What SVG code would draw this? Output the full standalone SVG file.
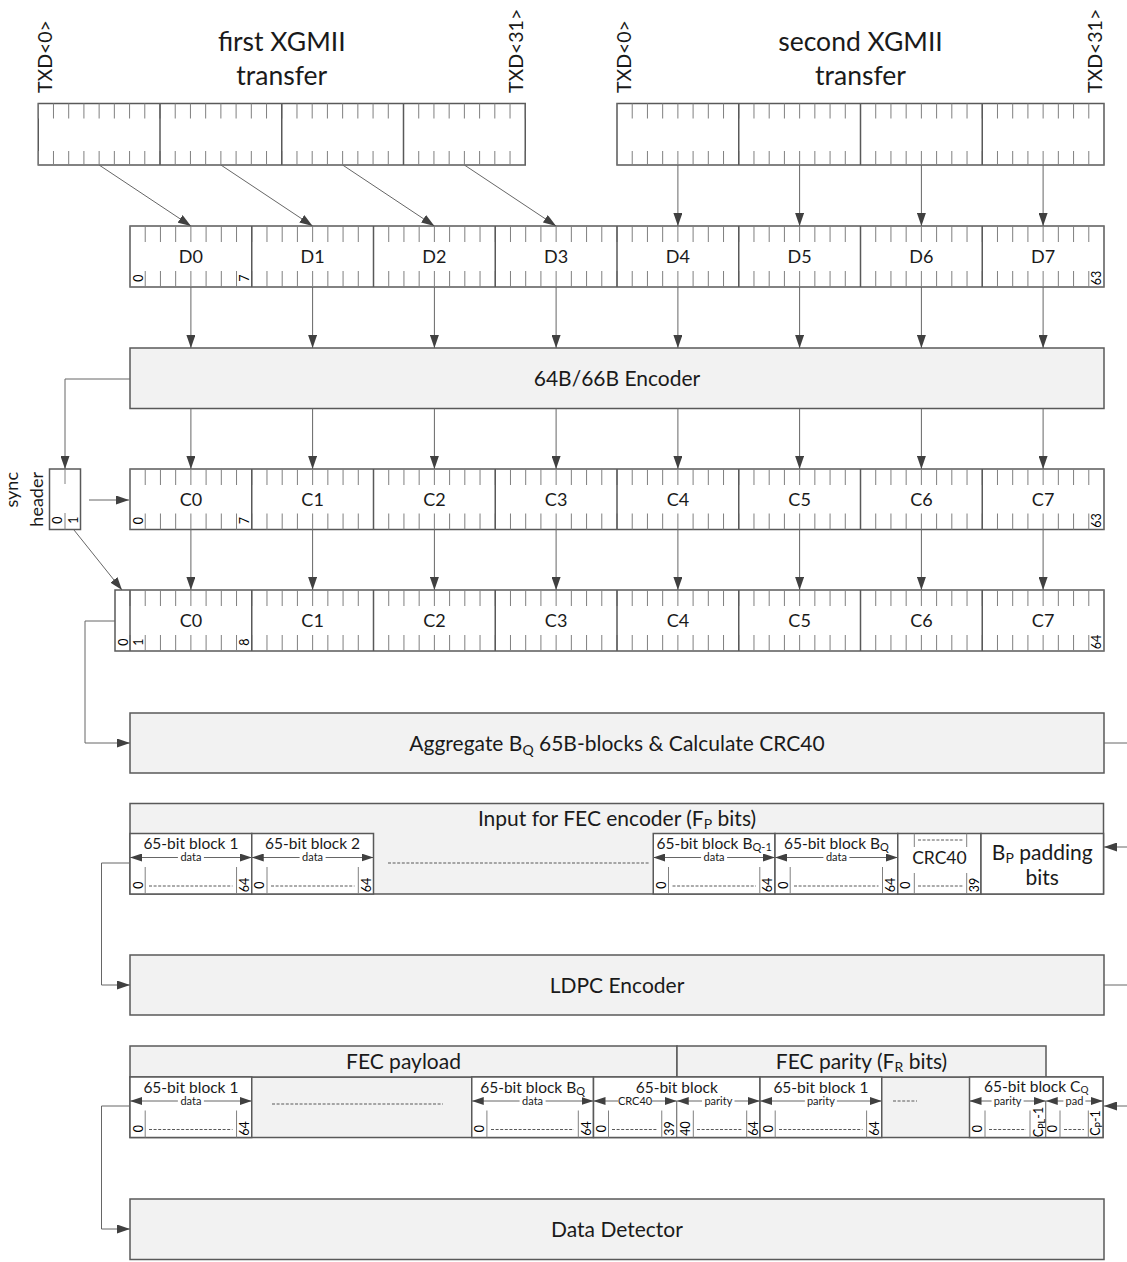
<svg xmlns="http://www.w3.org/2000/svg" width="1127" height="1262" viewBox="0 0 1127 1262">
<style>
.bx{fill:#fff;stroke:#595959;stroke-width:1.5}
.pb{fill:#f2f2f2;stroke:#595959;stroke-width:1.5}
.dv{stroke:#595959;stroke-width:1.5}
.tk{stroke:#808080;stroke-dasharray:1 14.21875;fill:none}
.vl{stroke:#808080;stroke-width:1}
.ds{stroke:#595959;stroke-width:1;stroke-dasharray:3 1.6}
.cn{stroke:#666;stroke-width:1;fill:none}
text{font-family:Lato,"Liberation Sans",sans-serif;fill:#1a1a1a}
.tt{font-size:26.5px;text-anchor:middle}
.tx{font-size:19.5px}
.lb{font-size:18px;text-anchor:middle}
.bg{font-size:21px;text-anchor:middle}
.bl{font-size:12.5px;text-anchor:middle;fill:#000}
.ct{font-size:15.5px;text-anchor:middle}
.sm{font-size:11px;text-anchor:middle}
.sh{font-size:18px;text-anchor:end}
</style>
<defs>
<marker id="ah" viewBox="0 0 13 9" refX="13" refY="4.5" markerWidth="13" markerHeight="9" markerUnits="userSpaceOnUse" orient="auto"><path d="M0,0L13,4.5L0,9z" fill="#404040"/></marker>
<marker id="sa" viewBox="0 0 12 8" refX="12" refY="4" markerWidth="12" markerHeight="8" markerUnits="userSpaceOnUse" orient="auto"><path d="M0,0L12,4L0,8z" fill="#404040"/></marker>
</defs>

<g id="xgmii1">
<rect class="bx" x="38.25" y="103.5" width="487" height="61.5"/>
<line class="tk" x1="37.75" y1="111" x2="525.25" y2="111" stroke-width="15"/>
<line class="tk" x1="37.75" y1="158" x2="525.25" y2="158" stroke-width="14"/>
<path class="dv" d="M160,103.5V165M281.75,103.5V165M403.5,103.5V165"/>
<text class="tt" x="281.75" y="51">first XGMII</text>
<text class="tt" x="281.75" y="85">transfer</text>
<text class="tx" transform="translate(52,93) rotate(-90)">TXD&lt;0&gt;</text>
<text class="tx" transform="translate(523,93) rotate(-90)">TXD&lt;31&gt;</text>
</g>

<g id="xgmii2">
<rect class="bx" x="617" y="103.5" width="487" height="61.5"/>
<line class="tk" x1="616.5" y1="111" x2="1104" y2="111" stroke-width="15"/>
<line class="tk" x1="616.5" y1="158" x2="1104" y2="158" stroke-width="14"/>
<path class="dv" d="M738.75,103.5V165M860.5,103.5V165M982.25,103.5V165"/>
<text class="tt" x="860.5" y="51">second XGMII</text>
<text class="tt" x="860.5" y="85">transfer</text>
<text class="tx" transform="translate(631,93) rotate(-90)">TXD&lt;0&gt;</text>
<text class="tx" transform="translate(1102,93) rotate(-90)">TXD&lt;31&gt;</text>
</g>

<g id="drow">
<rect class="bx" x="130" y="226" width="974" height="61"/>
<line class="tk" x1="129.5" y1="234" x2="1104" y2="234" stroke-width="16"/>
<line class="tk" x1="129.5" y1="279" x2="1104" y2="279" stroke-width="16"/>
<path class="dv" d="M251.75,226V287M373.5,226V287M495.25,226V287M617,226V287M738.75,226V287M860.5,226V287M982.25,226V287"/>
<text class="lb" x="190.9" y="262.5">D0</text>
<text class="lb" x="312.6" y="262.5">D1</text>
<text class="lb" x="434.4" y="262.5">D2</text>
<text class="lb" x="556.1" y="262.5">D3</text>
<text class="lb" x="677.9" y="262.5">D4</text>
<text class="lb" x="799.6" y="262.5">D5</text>
<text class="lb" x="921.4" y="262.5">D6</text>
<text class="lb" x="1043.1" y="262.5">D7</text>
<text class="bl" transform="translate(142.5,278) rotate(-90)">0</text>
<text class="bl" transform="translate(249,278) rotate(-90)">7</text>
<text class="bl" transform="translate(1101.3,278) rotate(-90)">63</text>
</g>

<g id="encoder">
<rect class="pb" x="130" y="348" width="974" height="60.5"/>
<text class="bg" x="617" y="385.5">64B/66B Encoder</text>
</g>

<g id="sync">
<rect class="bx" x="49.5" y="469" width="31" height="60.5"/>
<path class="vl" d="M65,469V484M65,513V529.5"/>
<text class="bl" transform="translate(62,520) rotate(-90)">0</text>
<text class="bl" transform="translate(77.5,520) rotate(-90)">1</text>
<text class="sh" transform="translate(17.5,472) rotate(-90)">sync</text>
<text class="sh" transform="translate(43,472) rotate(-90)">header</text>
</g>

<g id="crow">
<rect class="bx" x="130" y="469" width="974" height="60.5"/>
<line class="tk" x1="129.5" y1="477" x2="1104" y2="477" stroke-width="16"/>
<line class="tk" x1="129.5" y1="521.5" x2="1104" y2="521.5" stroke-width="16"/>
<path class="dv" d="M251.75,469V529.5M373.5,469V529.5M495.25,469V529.5M617,469V529.5M738.75,469V529.5M860.5,469V529.5M982.25,469V529.5"/>
<text class="lb" x="190.9" y="505.5">C0</text>
<text class="lb" x="312.6" y="505.5">C1</text>
<text class="lb" x="434.4" y="505.5">C2</text>
<text class="lb" x="556.1" y="505.5">C3</text>
<text class="lb" x="677.9" y="505.5">C4</text>
<text class="lb" x="799.6" y="505.5">C5</text>
<text class="lb" x="921.4" y="505.5">C6</text>
<text class="lb" x="1043.1" y="505.5">C7</text>
<text class="bl" transform="translate(142.5,520.5) rotate(-90)">0</text>
<text class="bl" transform="translate(249,520.5) rotate(-90)">7</text>
<text class="bl" transform="translate(1101.3,520.5) rotate(-90)">63</text>
</g>

<g id="row65">
<rect class="bx" x="115" y="590" width="989" height="61"/>
<line class="tk" x1="129.5" y1="598" x2="1104" y2="598" stroke-width="16"/>
<line class="tk" x1="129.5" y1="643" x2="1104" y2="643" stroke-width="16"/>
<path class="dv" d="M130,590V651M251.75,590V651M373.5,590V651M495.25,590V651M617,590V651M738.75,590V651M860.5,590V651M982.25,590V651"/>
<text class="lb" x="190.9" y="627">C0</text>
<text class="lb" x="312.6" y="627">C1</text>
<text class="lb" x="434.4" y="627">C2</text>
<text class="lb" x="556.1" y="627">C3</text>
<text class="lb" x="677.9" y="627">C4</text>
<text class="lb" x="799.6" y="627">C5</text>
<text class="lb" x="921.4" y="627">C6</text>
<text class="lb" x="1043.1" y="627">C7</text>
<text class="bl" transform="translate(127.5,642) rotate(-90)">0</text>
<text class="bl" transform="translate(142.5,642) rotate(-90)">1</text>
<text class="bl" transform="translate(249,642) rotate(-90)">8</text>
<text class="bl" transform="translate(1101.3,642) rotate(-90)">64</text>
</g>

<g id="aggregate">
<rect class="pb" x="130" y="713" width="974" height="60"/>
<text class="bg" x="617" y="750.5">Aggregate B<tspan dy="4" font-size="14">Q</tspan><tspan dy="-4"> 65B-blocks &amp; Calculate CRC40</tspan></text>
</g>

<g id="fecinput">
<rect class="pb" x="130" y="803.5" width="973.5" height="90.5"/>
<text class="bg" x="617" y="825.5">Input for FEC encoder (F<tspan dy="3" font-size="14">P</tspan><tspan dy="-3"> bits)</tspan></text>
<g id="in-b1">
<rect class="bx" x="130" y="833.5" width="121.75" height="60.5"/>
<text class="ct" x="190.9" y="849">65-bit block 1</text>
<text class="sm" x="190.9" y="861">data</text>
<path class="vl" d="M145.2,867V894M236.55,867V894"/>
<line class="ds" x1="149" y1="886" x2="232.5" y2="886"/>
<text class="bl" transform="translate(142.5,885) rotate(-90)">0</text>
<text class="bl" transform="translate(249,885) rotate(-90)">64</text>
</g>
<g id="in-b2">
<rect class="bx" x="251.75" y="833.5" width="121.75" height="60.5"/>
<text class="ct" x="312.6" y="849">65-bit block 2</text>
<text class="sm" x="312.6" y="861">data</text>
<path class="vl" d="M267,867V894M358.3,867V894"/>
<line class="ds" x1="271" y1="886" x2="354.5" y2="886"/>
<text class="bl" transform="translate(264.3,885) rotate(-90)">0</text>
<text class="bl" transform="translate(370.8,885) rotate(-90)">64</text>
</g>
<line class="ds" x1="388" y1="863" x2="650" y2="863"/>
<g id="in-bq1">
<rect class="bx" x="653.25" y="833.5" width="121.75" height="60.5"/>
<text class="ct" x="714.1" y="849">65-bit block B<tspan dy="2" font-size="11">Q-1</tspan></text>
<text class="sm" x="714.1" y="861">data</text>
<path class="vl" d="M668.5,867V894M759.8,867V894"/>
<line class="ds" x1="672.5" y1="886" x2="756" y2="886"/>
<text class="bl" transform="translate(665.8,885) rotate(-90)">0</text>
<text class="bl" transform="translate(772.3,885) rotate(-90)">64</text>
</g>
<g id="in-bq">
<rect class="bx" x="775" y="833.5" width="122.75" height="60.5"/>
<text class="ct" x="836.4" y="849">65-bit block B<tspan dy="2" font-size="11">Q</tspan></text>
<text class="sm" x="836.4" y="861">data</text>
<path class="vl" d="M790.2,867V894M882.5,867V894"/>
<line class="ds" x1="794" y1="886" x2="878.5" y2="886"/>
<text class="bl" transform="translate(787.5,885) rotate(-90)">0</text>
<text class="bl" transform="translate(895,885) rotate(-90)">64</text>
</g>
<g id="in-crc">
<rect class="bx" x="897.75" y="833.5" width="83.25" height="60.5"/>
<path class="vl" d="M914.3,833.5V847M966.7,833.5V847M914.3,873V894M966.7,873V894"/>
<line class="ds" x1="918" y1="840" x2="963" y2="840"/>
<line class="ds" x1="918" y1="886" x2="963" y2="886"/>
<text x="939.4" y="863.5" font-size="17.5" text-anchor="middle">CRC40</text>
<text class="bl" transform="translate(910.3,885) rotate(-90)">0</text>
<text class="bl" transform="translate(979,885) rotate(-90)">39</text>
</g>
<g id="in-pad">
<rect class="bx" x="981" y="833.5" width="122.5" height="60.5"/>
<text class="bg" x="1042.25" y="860">B<tspan dy="3" font-size="14">P</tspan><tspan dy="-3"> padding</tspan></text>
<text class="bg" x="1042.25" y="885">bits</text>
</g>
</g>

<g id="ldpc">
<rect class="pb" x="130" y="955" width="974" height="60"/>
<text class="bg" x="617" y="992.5">LDPC Encoder</text>
</g>

<g id="fecframe">
<rect class="pb" x="130" y="1077" width="973" height="60.5"/>
<rect class="pb" x="130" y="1046" width="547" height="31"/>
<rect class="pb" x="677" y="1046" width="369" height="31"/>
<text class="bg" x="403.5" y="1068.5">FEC payload</text>
<text class="bg" x="861.5" y="1068.5">FEC parity (F<tspan dy="3" font-size="14">R</tspan><tspan dy="-3"> bits)</tspan></text>
<g id="f-b1">
<rect class="bx" x="130" y="1077" width="121.75" height="60.5"/>
<text class="ct" x="190.9" y="1092.5">65-bit block 1</text>
<text class="sm" x="190.9" y="1104.5">data</text>
<path class="vl" d="M145.2,1110.5V1137.5M236.55,1110.5V1137.5"/>
<line class="ds" x1="149" y1="1129.5" x2="232.5" y2="1129.5"/>
<text class="bl" transform="translate(142.5,1128.5) rotate(-90)">0</text>
<text class="bl" transform="translate(249,1128.5) rotate(-90)">64</text>
</g>
<line class="ds" x1="272" y1="1104" x2="443" y2="1104"/>
<g id="f-bq">
<rect class="bx" x="471.75" y="1077" width="121.75" height="60.5"/>
<text class="ct" x="532.6" y="1092.5">65-bit block B<tspan dy="2" font-size="11">Q</tspan></text>
<text class="sm" x="532.6" y="1104.5">data</text>
<path class="vl" d="M486.9,1110.5V1137.5M578.3,1110.5V1137.5"/>
<line class="ds" x1="491" y1="1129.5" x2="574" y2="1129.5"/>
<text class="bl" transform="translate(484.3,1128.5) rotate(-90)">0</text>
<text class="bl" transform="translate(590.8,1128.5) rotate(-90)">64</text>
</g>
<g id="f-bcrc">
<rect class="bx" x="593.5" y="1077" width="166.5" height="60.5"/>
<text class="ct" x="676.75" y="1092.5">65-bit block</text>
<text class="sm" x="635.1" y="1104.5">CRC40</text>
<text class="sm" x="718.4" y="1104.5">parity</text>
<path class="dv" d="M676.75,1101V1137.5" style="stroke-width:1"/>
<path class="vl" d="M608.5,1110.5V1137.5M661.75,1110.5V1137.5M693.3,1110.5V1137.5M746.7,1110.5V1137.5"/>
<line class="ds" x1="612" y1="1129.5" x2="658" y2="1129.5"/>
<line class="ds" x1="697" y1="1129.5" x2="743" y2="1129.5"/>
<text class="bl" transform="translate(606,1128.5) rotate(-90)">0</text>
<text class="bl" transform="translate(674.3,1128.5) rotate(-90)">39</text>
<text class="bl" transform="translate(690,1128.5) rotate(-90)">40</text>
<text class="bl" transform="translate(757.7,1128.5) rotate(-90)">64</text>
</g>
<g id="f-p1">
<rect class="bx" x="760" y="1077" width="121.75" height="60.5"/>
<text class="ct" x="820.9" y="1092.5">65-bit block 1</text>
<text class="sm" x="820.9" y="1104.5">parity</text>
<path class="vl" d="M775.2,1110.5V1137.5M866.6,1110.5V1137.5"/>
<line class="ds" x1="779" y1="1129.5" x2="862.5" y2="1129.5"/>
<text class="bl" transform="translate(772.5,1128.5) rotate(-90)">0</text>
<text class="bl" transform="translate(879.1,1128.5) rotate(-90)">64</text>
</g>
<line class="ds" x1="893" y1="1101" x2="917" y2="1101"/>
<g id="f-cq">
<rect class="bx" x="969.5" y="1077" width="133.5" height="60.5"/>
<text class="ct" x="1036.25" y="1091.5" font-size="15">65-bit block C<tspan dy="1.5" font-size="10">Q</tspan></text>
<text class="sm" x="1007.6" y="1105">parity</text>
<text class="sm" x="1074.4" y="1105">pad</text>
<path class="dv" d="M1045.75,1101V1137.5" style="stroke-width:1"/>
<path class="vl" d="M985,1110.5V1137.5M1030,1110.5V1137.5M1060,1110.5V1137.5M1088.3,1110.5V1137.5"/>
<line class="ds" x1="989" y1="1129.5" x2="1026" y2="1129.5"/>
<line class="ds" x1="1064" y1="1129.5" x2="1084" y2="1129.5"/>
<text class="bl" transform="translate(981.8,1128.5) rotate(-90)">0</text>
<text class="bl" transform="translate(1042.5,1122) rotate(-90)" font-size="12">C<tspan dy="2" font-size="9">PL</tspan><tspan dy="-2">-1</tspan></text>
<text class="bl" transform="translate(1057.3,1128.5) rotate(-90)">0</text>
<text class="bl" transform="translate(1100,1123) rotate(-90)" font-size="12">C<tspan dy="2" font-size="9">P</tspan><tspan dy="-2">-1</tspan></text>
</g>
</g>

<g id="detector">
<rect class="pb" x="130" y="1199" width="974" height="60.5"/>
<text class="bg" x="617" y="1236.5">Data Detector</text>
</g>

<g id="connectors" class="cn">
<line x1="99.1" y1="165" x2="190.9" y2="226" marker-end="url(#ah)"/>
<line x1="220.9" y1="165" x2="312.6" y2="226" marker-end="url(#ah)"/>
<line x1="342.6" y1="165" x2="434.4" y2="226" marker-end="url(#ah)"/>
<line x1="464.4" y1="165" x2="556.1" y2="226" marker-end="url(#ah)"/>
<line x1="677.9" y1="165" x2="677.9" y2="226" marker-end="url(#ah)"/>
<line x1="799.6" y1="165" x2="799.6" y2="226" marker-end="url(#ah)"/>
<line x1="921.4" y1="165" x2="921.4" y2="226" marker-end="url(#ah)"/>
<line x1="1043.1" y1="165" x2="1043.1" y2="226" marker-end="url(#ah)"/>
<line x1="190.9" y1="287" x2="190.9" y2="348" marker-end="url(#ah)"/>
<line x1="312.6" y1="287" x2="312.6" y2="348" marker-end="url(#ah)"/>
<line x1="434.4" y1="287" x2="434.4" y2="348" marker-end="url(#ah)"/>
<line x1="556.1" y1="287" x2="556.1" y2="348" marker-end="url(#ah)"/>
<line x1="677.9" y1="287" x2="677.9" y2="348" marker-end="url(#ah)"/>
<line x1="799.6" y1="287" x2="799.6" y2="348" marker-end="url(#ah)"/>
<line x1="921.4" y1="287" x2="921.4" y2="348" marker-end="url(#ah)"/>
<line x1="1043.1" y1="287" x2="1043.1" y2="348" marker-end="url(#ah)"/>
<line x1="190.9" y1="408.5" x2="190.9" y2="469" marker-end="url(#ah)"/>
<line x1="312.6" y1="408.5" x2="312.6" y2="469" marker-end="url(#ah)"/>
<line x1="434.4" y1="408.5" x2="434.4" y2="469" marker-end="url(#ah)"/>
<line x1="556.1" y1="408.5" x2="556.1" y2="469" marker-end="url(#ah)"/>
<line x1="677.9" y1="408.5" x2="677.9" y2="469" marker-end="url(#ah)"/>
<line x1="799.6" y1="408.5" x2="799.6" y2="469" marker-end="url(#ah)"/>
<line x1="921.4" y1="408.5" x2="921.4" y2="469" marker-end="url(#ah)"/>
<line x1="1043.1" y1="408.5" x2="1043.1" y2="469" marker-end="url(#ah)"/>
<line x1="190.9" y1="529.5" x2="190.9" y2="590" marker-end="url(#ah)"/>
<line x1="312.6" y1="529.5" x2="312.6" y2="590" marker-end="url(#ah)"/>
<line x1="434.4" y1="529.5" x2="434.4" y2="590" marker-end="url(#ah)"/>
<line x1="556.1" y1="529.5" x2="556.1" y2="590" marker-end="url(#ah)"/>
<line x1="677.9" y1="529.5" x2="677.9" y2="590" marker-end="url(#ah)"/>
<line x1="799.6" y1="529.5" x2="799.6" y2="590" marker-end="url(#ah)"/>
<line x1="921.4" y1="529.5" x2="921.4" y2="590" marker-end="url(#ah)"/>
<line x1="1043.1" y1="529.5" x2="1043.1" y2="590" marker-end="url(#ah)"/>
<path d="M130,379H65V469" marker-end="url(#ah)"/>
<line x1="89" y1="500" x2="129" y2="500" marker-end="url(#ah)"/>
<line x1="74" y1="530" x2="122" y2="590" marker-end="url(#ah)"/>
<path d="M115,621H85V743H130" marker-end="url(#ah)"/>
<path d="M130,863H101.5V985H130" marker-end="url(#ah)"/>
<path d="M130,1106H101.5V1229H130" marker-end="url(#ah)"/>
<line x1="1104" y1="743" x2="1127" y2="743"/>
<line x1="1104" y1="985" x2="1127" y2="985"/>
<line x1="1127" y1="847" x2="1104" y2="847" marker-end="url(#ah)"/>
<line x1="1127" y1="1106" x2="1104" y2="1106" marker-end="url(#ah)"/>
<g id="data-arrows">
<line x1="177.9" y1="857.5" x2="130" y2="857.5" marker-end="url(#sa)"/>
<line x1="203.9" y1="857.5" x2="251.75" y2="857.5" marker-end="url(#sa)"/>
<line x1="299.6" y1="857.5" x2="251.75" y2="857.5" marker-end="url(#sa)"/>
<line x1="325.6" y1="857.5" x2="373.5" y2="857.5" marker-end="url(#sa)"/>
<line x1="701.1" y1="857.5" x2="653.25" y2="857.5" marker-end="url(#sa)"/>
<line x1="727.1" y1="857.5" x2="775" y2="857.5" marker-end="url(#sa)"/>
<line x1="823.4" y1="857.5" x2="775" y2="857.5" marker-end="url(#sa)"/>
<line x1="849.4" y1="857.5" x2="897.75" y2="857.5" marker-end="url(#sa)"/>
<line x1="177.9" y1="1101" x2="130" y2="1101" marker-end="url(#sa)"/>
<line x1="203.9" y1="1101" x2="251.75" y2="1101" marker-end="url(#sa)"/>
<line x1="519.6" y1="1101" x2="471.75" y2="1101" marker-end="url(#sa)"/>
<line x1="545.6" y1="1101" x2="593.5" y2="1101" marker-end="url(#sa)"/>
<line x1="618" y1="1101" x2="593.5" y2="1101" marker-end="url(#sa)"/>
<line x1="652" y1="1101" x2="676.75" y2="1101" marker-end="url(#sa)"/>
<line x1="702" y1="1101" x2="676.75" y2="1101" marker-end="url(#sa)"/>
<line x1="734.5" y1="1101" x2="760" y2="1101" marker-end="url(#sa)"/>
<line x1="804.9" y1="1101" x2="760" y2="1101" marker-end="url(#sa)"/>
<line x1="836.9" y1="1101" x2="881.75" y2="1101" marker-end="url(#sa)"/>
<line x1="991.6" y1="1101" x2="969.5" y2="1101" marker-end="url(#sa)"/>
<line x1="1023.6" y1="1101" x2="1045.75" y2="1101" marker-end="url(#sa)"/>
<line x1="1063.4" y1="1101" x2="1045.75" y2="1101" marker-end="url(#sa)"/>
<line x1="1085.4" y1="1101" x2="1103" y2="1101" marker-end="url(#sa)"/>
</g>
</g>
</svg>
